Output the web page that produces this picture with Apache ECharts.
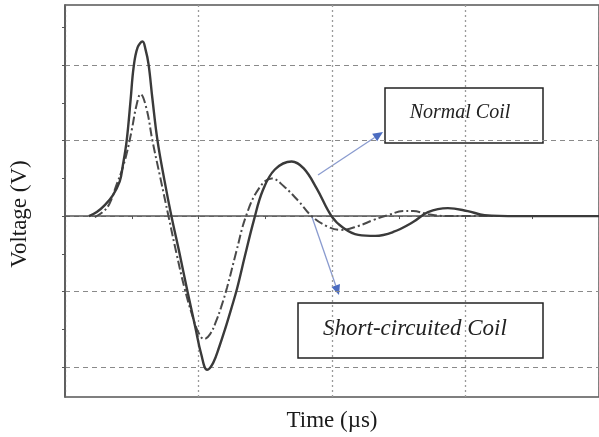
<!DOCTYPE html>
<html>
<head>
<meta charset="utf-8">
<script src="https://cdn.jsdelivr.net/npm/echarts@6/dist/echarts.min.js"></script>
<style>
  html, body { margin: 0; padding: 0; background: #fff; }
  #chart { width: 599px; height: 437px; }
</style>
</head>
<body>
<div id="chart"></div>
<script>
// time axis (arbitrary units, 1 = one major division)
const normalTime = [0.179, 0.238, 0.298, 0.358, 0.410, 0.432, 0.462, 0.492, 0.514, 0.544, 0.581, 0.603, 0.626, 0.655, 0.693, 0.745, 0.797, 0.857, 0.916, 0.976, 1.020, 1.065, 1.110, 1.155, 1.199, 1.244, 1.289, 1.348, 1.415, 1.482, 1.572, 1.698, 1.788, 1.885, 1.996, 2.086, 2.197, 2.324, 2.458, 2.607, 2.719, 2.868, 3.017, 3.143, 3.389, 4.0];
const normalVolt = [0, 0.053, 0.145, 0.276, 0.461, 0.658, 1.0, 1.553, 1.974, 2.237, 2.316, 2.211, 2.013, 1.553, 1.0, 0.474, 0, -0.487, -0.987, -1.474, -1.829, -2.039, -1.947, -1.737, -1.500, -1.237, -0.961, -0.526, -0.053, 0.342, 0.618, 0.724, 0.632, 0.368, 0, -0.158, -0.25, -0.263, -0.211, -0.079, 0.053, 0.105, 0.066, 0.013, 0, 0];

const shortTime = [0.223, 0.283, 0.335, 0.387, 0.425, 0.462, 0.499, 0.536, 0.566, 0.611, 0.655, 0.715, 0.775, 0.834, 0.894, 0.953, 0.998, 1.043, 1.087, 1.132, 1.169, 1.214, 1.281, 1.356, 1.453, 1.549, 1.639, 1.750, 1.847, 1.959, 2.063, 2.197, 2.309, 2.421, 2.533, 2.607, 2.719, 2.868, 4.0];
const shortVolt = [-0.013, 0.053, 0.171, 0.42, 0.6, 0.829, 1.132, 1.474, 1.618, 1.421, 1.0, 0.5, 0, -0.487, -0.947, -1.316, -1.539, -1.632, -1.566, -1.395, -1.211, -0.947, -0.487, 0, 0.368, 0.5, 0.395, 0.197, 0, -0.132, -0.184, -0.132, -0.053, 0.013, 0.066, 0.066, 0.026, 0, 0];

const yTicks = [-2, -1.5, -1, -0.5, 0, 0.5, 1, 1.5, 2, 2.5];

const pair = (xs, ys) => xs.map((x, i) => [x, ys[i]]);

// arrow built from a line and a small triangle head
function arrow(x1, y1, x2, y2) {
  const a = Math.atan2(y2 - y1, x2 - x1);
  const len = 10, w = 4.5;
  const bx = x2 - len * Math.cos(a), by = y2 - len * Math.sin(a);
  return [
    { type: 'line', shape: { x1: x1, y1: y1, x2: bx, y2: by },
      style: { stroke: '#8a9bcf', lineWidth: 1.3 } },
    { type: 'polygon',
      shape: { points: [[x2, y2],
        [bx + w * Math.sin(a), by - w * Math.cos(a)],
        [bx - w * Math.sin(a), by + w * Math.cos(a)]] },
      style: { fill: '#4b6cc1' } }
  ];
}

const chart = echarts.init(document.getElementById('chart'));
chart.setOption({
  animation: false,
  backgroundColor: '#fff',
  grid: { left: 65, top: 5, right: -3, bottom: 37, show: true,
    borderColor: '#555', borderWidth: 1.5 },
  xAxis: {
    type: 'value', min: 0, max: 4, interval: 0.5,
    name: 'Time (µs)', nameLocation: 'middle', nameGap: 12,
    nameTextStyle: { fontFamily: 'Liberation Serif', fontSize: 23, color: '#1a1a1a' },
    axisLine: { lineStyle: { color: '#555', width: 1.5 } },
    axisTick: { show: true, length: 3, lineStyle: { color: '#555' } },
    axisLabel: { show: false },
    splitLine: { show: true, lineStyle: { color: ['#9a9a9a', 'rgba(0,0,0,0)'], type: [2, 3], width: 1.3 } }
  },
  yAxis: {
    type: 'value', min: -2.4, max: 2.8,
    name: 'Voltage (V)', nameLocation: 'middle', nameGap: 34,
    nameTextStyle: { fontFamily: 'Liberation Serif', fontSize: 23, color: '#1a1a1a', padding: [0, 26, 0, 0] },
    axisLine: { show: true, lineStyle: { color: '#555', width: 1.5 } },
    axisTick: { show: true, length: 3, customValues: yTicks, lineStyle: { color: '#555' } },
    axisLabel: { show: false, customValues: yTicks },
    splitLine: { show: true, lineStyle: { color: ['#8a8a8a', 'rgba(0,0,0,0)'], type: [5, 4], width: 1.2 } }
  },
  series: [
    {
      name: 'Short-circuited Coil', type: 'line', smooth: 0.4, symbol: 'none',
      data: pair(shortTime, shortVolt),
      lineStyle: { color: '#4a4a4a', width: 2, type: [9, 3, 2, 3] }
    },
    {
      name: 'Normal Coil', type: 'line', smooth: 0.4, symbol: 'none',
      data: pair(normalTime, normalVolt),
      lineStyle: { color: '#3a3a3a', width: 2.4 }
    }
  ],
  graphic: [
    { type: 'rect', shape: { x: 385, y: 88, width: 158, height: 55 },
      style: { fill: 'rgba(255,255,255,0.4)', stroke: '#222', lineWidth: 1.5 } },
    { type: 'text', x: 460, y: 113,
      style: { text: 'Normal Coil', font: 'italic 20px "Liberation Serif"', fill: '#222',
        textAlign: 'center', textVerticalAlign: 'middle' } },
    { type: 'rect', shape: { x: 298, y: 303, width: 245, height: 55 },
      style: { fill: 'rgba(255,255,255,0.4)', stroke: '#222', lineWidth: 1.5 } },
    { type: 'text', x: 415, y: 329,
      style: { text: 'Short-circuited Coil', font: 'italic 23px "Liberation Serif"', fill: '#222',
        textAlign: 'center', textVerticalAlign: 'middle' } },
    ...arrow(318, 175, 383, 132),
    ...arrow(312, 217, 339, 295)
  ]
});
</script>
</body>
</html>
